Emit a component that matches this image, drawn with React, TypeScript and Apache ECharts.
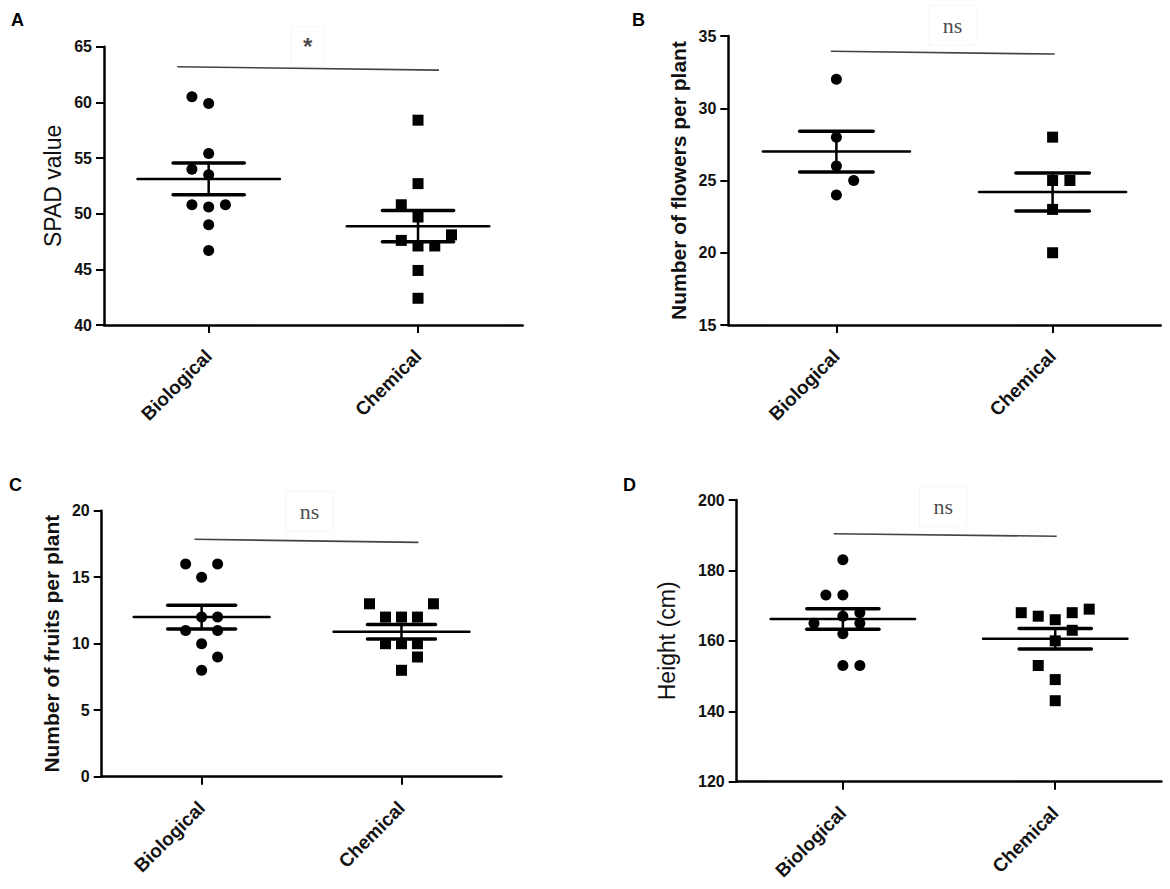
import React, { useEffect, useRef } from "react";
import * as echarts from "echarts";

// ---------- data ----------
const categories = ["Biological", "Chemical"];

// Panel A – SPAD value
const spadBiological = [60.5, 59.9, 55.4, 54.0, 53.5, 50.8, 50.6, 50.8, 49.0, 46.7];
const spadBiologicalSlots = [-1, 0, 0, -1, 0, -1, 0, 1, 0, 0];
const spadChemical = [58.4, 52.7, 50.8, 49.7, 47.6, 47.1, 47.1, 48.1, 44.9, 42.4];
const spadChemicalSlots = [0, 0, -1, 0, -1, 0, 1, 2, 0, 0];
const spadAxis = [40, 65, 5];
const spadSignifLine = [[0.85, 63.2], [2.1, 62.9]];
const spadSignifLabel = [1.473, 65.0, "*"];

// Panel B – flowers per plant
const flowersBiological = [32, 28, 26, 25, 24];
const flowersBiologicalSlots = [0, 0, 0, 1, 0];
const flowersChemical = [28, 25, 25, 23, 20];
const flowersChemicalSlots = [0, 0, 1, 0, 0];
const flowersAxis = [15, 35, 5];
const flowersSignifLine = [[0.974, 33.94], [2.01, 33.75]];
const flowersSignifLabel = [1.537, 35.75, "ns"];

// Panel C – fruits per plant
const fruitsBiological = [16, 16, 15, 12, 12, 11, 11, 10, 9, 8];
const fruitsBiologicalSlots = [-1, 1, 0, 0, 1, -1, 1, 0, 1, 0];
const fruitsChemical = [13, 13, 12, 12, 12, 10, 10, 10, 9, 8];
const fruitsChemicalSlots = [-2, 2, -1, 0, 1, -1, 0, 1, 1, 0];
const fruitsAxis = [0, 20, 5];
const fruitsSignifLine = [[0.964, 17.85], [2.085, 17.62]];
const fruitsSignifLabel = [1.54, 19.95, "ns"];

// Panel D – height
const heightBiological = [183, 173, 173, 168, 167, 165, 165, 162, 153, 153];
const heightBiologicalSlots = [0, -1, 0, 1, 0, -1.7, 1, 0, 0, 1];
const heightChemical = [168, 167, 166, 168, 169, 163, 160, 153, 149, 143];
const heightChemicalSlots = [-2, -1, 0, 1, 2, 1, 0, -1, 0, 0];
const heightAxis = [120, 200, 20];
const heightSignifLine = [[0.957, 190.4], [2.007, 189.7]];
const heightSignifLabel = [1.473, 198.2, "ns"];

// ---------- helpers ----------
const SANS = '"Liberation Sans", Arial, Helvetica, sans-serif';
const SERIF = '"Liberation Serif", "Times New Roman", serif';
const SLOT = 0.08;

function meanSem(v: number[]) {
  const n = v.length;
  const m = v.reduce((a, b) => a + b, 0) / n;
  const sd = Math.sqrt(v.reduce((a, b) => a + (b - m) * (b - m), 0) / (n - 1));
  return [m, sd / Math.sqrt(n)];
}

type Panel = {
  letter: string;
  letterPos: [number, number];
  grid: { left: number; top: number; width: number; height: number };
  axis: number[];
  yName: string;
  yNameBold: boolean;
  yNameSize: number;
  yNameGap: number;
  bio: number[];
  bioSlots: number[];
  chem: number[];
  chemSlots: number[];
  sigLine: number[][];
  sigLabel: any[];
};

const panels: Panel[] = [
  {
    letter: "A", letterPos: [6, 6],
    grid: { left: 104, top: 46.7, width: 418.7, height: 278.3 },
    axis: spadAxis, yName: "SPAD value", yNameBold: false, yNameSize: 23, yNameGap: 40,
    bio: spadBiological, bioSlots: spadBiologicalSlots,
    chem: spadChemical, chemSlots: spadChemicalSlots,
    sigLine: spadSignifLine, sigLabel: spadSignifLabel,
  },
  {
    letter: "B", letterPos: [627, 6],
    grid: { left: 728.3, top: 36, width: 432.4, height: 289 },
    axis: flowersAxis, yName: "Number of flowers per plant", yNameBold: true, yNameSize: 21, yNameGap: 39,
    bio: flowersBiological, bioSlots: flowersBiologicalSlots,
    chem: flowersChemical, chemSlots: flowersChemicalSlots,
    sigLine: flowersSignifLine, sigLabel: flowersSignifLabel,
  },
  {
    letter: "C", letterPos: [4, 471],
    grid: { left: 101.7, top: 510.7, width: 399.7, height: 266 },
    axis: fruitsAxis, yName: "Number of fruits per plant", yNameBold: true, yNameSize: 21, yNameGap: 40,
    bio: fruitsBiological, bioSlots: fruitsBiologicalSlots,
    chem: fruitsChemical, chemSlots: fruitsChemicalSlots,
    sigLine: fruitsSignifLine, sigLabel: fruitsSignifLabel,
  },
  {
    letter: "D", letterPos: [618, 471],
    grid: { left: 736.7, top: 500, width: 424.7, height: 281.7 },
    axis: heightAxis, yName: "Height (cm)", yNameBold: false, yNameSize: 23, yNameGap: 58,
    bio: heightBiological, bioSlots: heightBiologicalSlots,
    chem: heightChemical, chemSlots: heightChemicalSlots,
    sigLine: heightSignifLine, sigLabel: heightSignifLabel,
  },
];

function buildOption() {
  const grid: any[] = [];
  const xAxis: any[] = [];
  const yAxis: any[] = [];
  const series: any[] = [];
  const title: any[] = [];

  panels.forEach((p, i) => {
    grid.push({ ...p.grid });
    title.push({
      text: p.letter, left: p.letterPos[0], top: p.letterPos[1],
      textStyle: { fontFamily: SANS, fontSize: 18, fontWeight: "bold", color: "#000" },
    });
    // visible category axis
    xAxis.push({
      type: "category", gridIndex: i, data: categories, boundaryGap: true, position: "bottom",
      axisLine: { show: true, lineStyle: { color: "#000", width: 2.5 } },
      axisTick: { show: true, alignWithLabel: true, length: 8, lineStyle: { color: "#000", width: 2 } },
      axisLabel: {
        rotate: 45, margin: 28, fontFamily: SANS, fontSize: 19, fontWeight: "bold", color: "#111",
      },
      splitLine: { show: false },
    });
    // hidden numeric axis for data placement
    xAxis.push({
      type: "value", gridIndex: i, min: 0.5, max: 2.5, show: false, position: "bottom",
      splitLine: { show: false },
    });
    yAxis.push({
      type: "value", gridIndex: i, min: p.axis[0], max: p.axis[1], interval: p.axis[2],
      name: p.yName, nameLocation: "middle", nameRotate: 90, nameGap: p.yNameGap,
      nameTextStyle: {
        fontFamily: SANS, fontSize: p.yNameSize, fontWeight: p.yNameBold ? "bold" : "normal", color: "#111",
      },
      axisLine: { show: true, lineStyle: { color: "#000", width: 2.5 } },
      axisTick: { show: true, length: 8, lineStyle: { color: "#000", width: 2 } },
      axisLabel: { margin: 12, fontFamily: SANS, fontSize: 16, fontWeight: "bold", color: "#111" },
      splitLine: { show: false },
    });

    const xi = i * 2 + 1;
    series.push({
      type: "scatter", xAxisIndex: xi, yAxisIndex: i, symbol: "circle", symbolSize: 11,
      itemStyle: { color: "#000", opacity: 1 }, silent: true,
      data: p.bio.map((v, k) => [1 + p.bioSlots[k] * SLOT, v]),
    });
    series.push({
      type: "scatter", xAxisIndex: xi, yAxisIndex: i, symbol: "rect", symbolSize: 11,
      itemStyle: { color: "#000", opacity: 1 }, silent: true,
      data: p.chem.map((v, k) => [2 + p.chemSlots[k] * SLOT, v]),
    });
    const [mb, sb] = meanSem(p.bio);
    const [mc, sc] = meanSem(p.chem);
    series.push({
      type: "custom", xAxisIndex: xi, yAxisIndex: i, silent: true, z: 5,
      data: [[1, mb, sb], [2, mc, sc]],
      encode: { x: 0, y: 1 },
      renderItem: (params: any, api: any) => {
        const x = api.value(0), m = api.value(1), s = api.value(2);
        const a = api.coord([x - 0.34, m]), b = api.coord([x + 0.34, m]);
        const c1 = api.coord([x - 0.17, m + s]), c2 = api.coord([x + 0.17, m + s]);
        const d1 = api.coord([x - 0.17, m - s]), d2 = api.coord([x + 0.17, m - s]);
        const st = { stroke: "#000", lineWidth: 2.5, lineCap: "round" };
        const stc = { stroke: "#000", lineWidth: 3.5, lineCap: "round" };
        return {
          type: "group",
          children: [
            { type: "line", shape: { x1: a[0], y1: a[1], x2: b[0], y2: b[1] }, style: st },
            { type: "line", shape: { x1: c1[0], y1: c1[1], x2: c2[0], y2: c2[1] }, style: stc },
            { type: "line", shape: { x1: d1[0], y1: d1[1], x2: d2[0], y2: d2[1] }, style: stc },
            {
              type: "line",
              shape: { x1: (c1[0] + c2[0]) / 2, y1: c1[1], x2: (d1[0] + d2[0]) / 2, y2: d1[1] },
              style: st,
            },
          ],
        };
      },
    });
    series.push({
      type: "line", xAxisIndex: xi, yAxisIndex: i, data: p.sigLine, symbol: "none", silent: true,
      lineStyle: { color: "#444", width: 1.6 }, clip: false,
    });
    const isStar = p.sigLabel[2] === "*";
    series.push({
      type: "scatter", xAxisIndex: xi, yAxisIndex: i, symbolSize: 0, silent: true, clip: false,
      itemStyle: { color: "transparent" },
      data: [[p.sigLabel[0], p.sigLabel[1]]],
      label: {
        show: true, position: "inside", formatter: String(p.sigLabel[2]),
        fontFamily: isStar ? SANS : SERIF, fontSize: isStar ? 24 : 22,
        fontWeight: isStar ? "bold" : "normal", color: "#1a1a1a",
        borderColor: "#f4f4f4", borderWidth: 1, padding: isStar ? [8, 12] : [9, 14],
      },
    });
  });

  return { animation: false, backgroundColor: "#fff", title, grid, xAxis, yAxis, series };
}

export default function App() {
  const ref = useRef<HTMLDivElement>(null);
  useEffect(() => {
    if (!ref.current) return;
    const chart = echarts.init(ref.current, undefined, { renderer: "svg" });
    chart.setOption(buildOption() as any);
    return () => chart.dispose();
  }, []);
  return (
    <div
      ref={ref}
      style={{ position: "fixed", left: 0, top: 0, width: 1170, height: 889, background: "#fff" }}
    />
  );
}
